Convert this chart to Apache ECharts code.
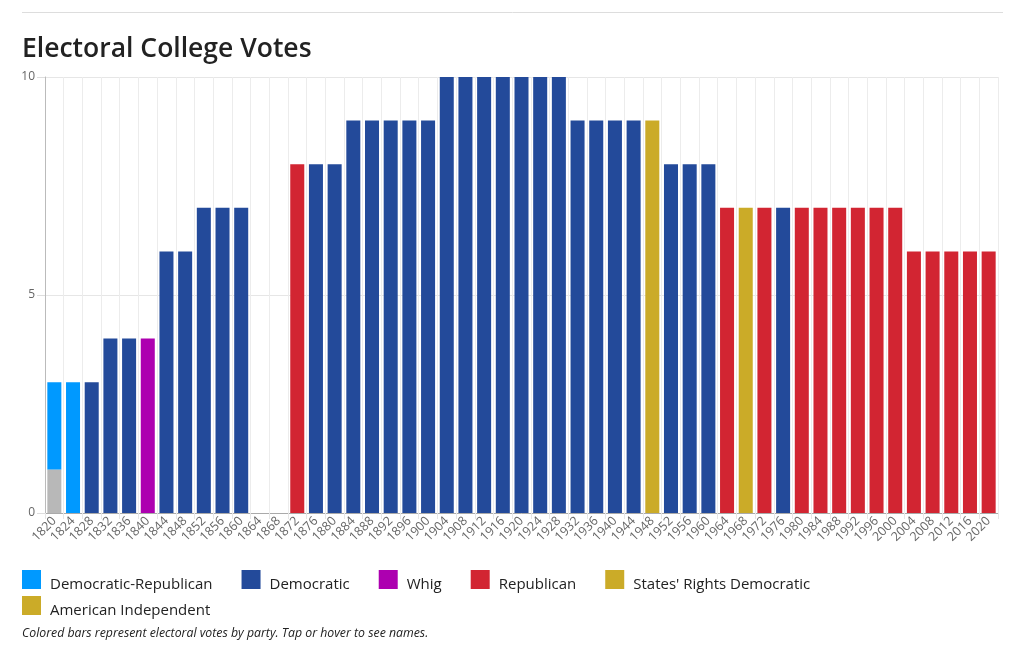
<!DOCTYPE html>
<html>
<head>
<meta charset="utf-8">
<script src="https://cdn.jsdelivr.net/npm/echarts@6/dist/echarts.min.js"></script>
<style>
html,body{margin:0;padding:0;background:#fff;}
#c{width:1018px;height:655px;}
</style>
</head>
<body>
<div id="c"></div>
<script>
const years = ['1820','1824','1828','1832','1836','1840','1844','1848','1852','1856','1860','1864','1868','1872','1876','1880','1884','1888','1892','1896','1900','1904','1908','1912','1916','1920','1924','1928','1932','1936','1940','1944','1948','1952','1956','1960','1964','1968','1972','1976','1980','1984','1988','1992','1996','2000','2004','2008','2012','2016','2020'];
const winnerVotes = [2,3,3,4,4,4,6,6,7,7,7,0,0,8,8,8,9,9,9,9,9,10,10,10,10,10,10,10,9,9,9,9,9,8,8,8,7,7,7,7,7,7,7,7,7,7,6,6,6,6,6];
const winnerParty = ['DR','DR','D','D','D','W','D','D','D','D','D','','','R','D','D','D','D','D','D','D','D','D','D','D','D','D','D','D','D','D','D','SRD','D','D','D','R','AI','R','D','R','R','R','R','R','R','R','R','R','R','R'];
const otherVotes = [1,0,0,0,0,0,0,0,0,0,0,0,0,0,0,0,0,0,0,0,0,0,0,0,0,0,0,0,0,0,0,0,0,0,0,0,0,0,0,0,0,0,0,0,0,0,0,0,0,0,0];
const parties = [
  {key:'DR', name:'Democratic-Republican', color:'#0099ff'},
  {key:'D', name:'Democratic', color:'#234a9a'},
  {key:'W', name:'Whig', color:'#ad00b0'},
  {key:'R', name:'Republican', color:'#d22532'},
  {key:'SRD', name:"States' Rights Democratic", color:'#cbab28'},
  {key:'AI', name:'American Independent', color:'#cbab28'}
];
const yTicks = [0, 5, 10];

const FONT = '"Open Sans", "Noto Sans", sans-serif';
const series = [{
  name: 'Other',
  type: 'bar',
  stack: 'ev',
  barCategoryGap: '25%',
  itemStyle: {color: '#b8b8b8'},
  data: otherVotes.map(v => v > 0 ? v : '-')
}];
parties.forEach(p => {
  series.push({
    name: p.name,
    type: 'bar',
    stack: 'ev',
    barCategoryGap: '25%',
    itemStyle: {color: p.color},
    data: winnerVotes.map((v, i) => winnerParty[i] === p.key && v > 0 ? v : '-')
  });
});

const legendCommon = {
  orient: 'horizontal',
  icon: 'rect',
  itemWidth: 19,
  itemHeight: 19,
  itemGap: 29,
  padding: 0,
  selectedMode: false,
  formatter: name => '{s| }\n{t|' + name + '}',
  textStyle: {
    fontFamily: FONT, fontSize: 15, color: '#222', padding: [0,0,0,4],
    rich: {
      s: {fontSize: 1, lineHeight: 10},
      t: {fontFamily: FONT, fontSize: 15, lineHeight: 20, color: '#222'}
    }
  }
};

const chart = echarts.init(document.getElementById('c'), null, {renderer: 'canvas'});
chart.setOption({
  animation: false,
  textStyle: {fontFamily: FONT},
  title: {
    text: 'Electoral College Votes',
    left: 17, top: 31,
    textStyle: {fontFamily: FONT, fontSize: 26.5, fontWeight: 600, color: '#222'}
  },
  legend: [
    Object.assign({}, legendCommon, {left: 22, top: 569, data: parties.slice(0,5).map(p => p.name)}),
    Object.assign({}, legendCommon, {left: 22, top: 595, data: parties.slice(5).map(p => p.name)})
  ],
  grid: {left: 45, right: 20, top: 77, bottom: 142, containLabel: false},
  xAxis: {
    type: 'category',
    data: years,
    boundaryGap: true,
    axisLine: {lineStyle: {color: '#aaa'}},
    axisTick: {show: true, length: 6, lineStyle: {color: '#e6e6e6'}, interval: 0},
    splitLine: {show: true, interval: 0, lineStyle: {color: '#ececec'}},
    axisLabel: {interval: 0, rotate: 45, color: '#666', fontSize: 12.5, margin: 6, fontFamily: FONT}
  },
  yAxis: {
    type: 'value',
    min: yTicks[0], max: yTicks[yTicks.length-1], interval: 5,
    axisLine: {show: true, lineStyle: {color: '#bbb'}},
    axisTick: {show: true, length: 8, lineStyle: {color: '#ddd'}},
    splitLine: {show: true, lineStyle: {color: '#e6e6e6'}},
    axisLabel: {color: '#666', fontSize: 12, margin: 10, fontFamily: FONT}
  },
  graphic: [
    {type: 'line', shape: {x1: 22, y1: 12.5, x2: 1003, y2: 12.5}, style: {stroke: '#dddddd', lineWidth: 1}},
    {type: 'text', left: 22, top: 627, style: {text: 'Colored bars represent electoral votes by party. Tap or hover to see names.', font: 'italic 12.3px ' + FONT, fill: '#222'}}
  ],
  series: series
});
</script>
</body>
</html>
